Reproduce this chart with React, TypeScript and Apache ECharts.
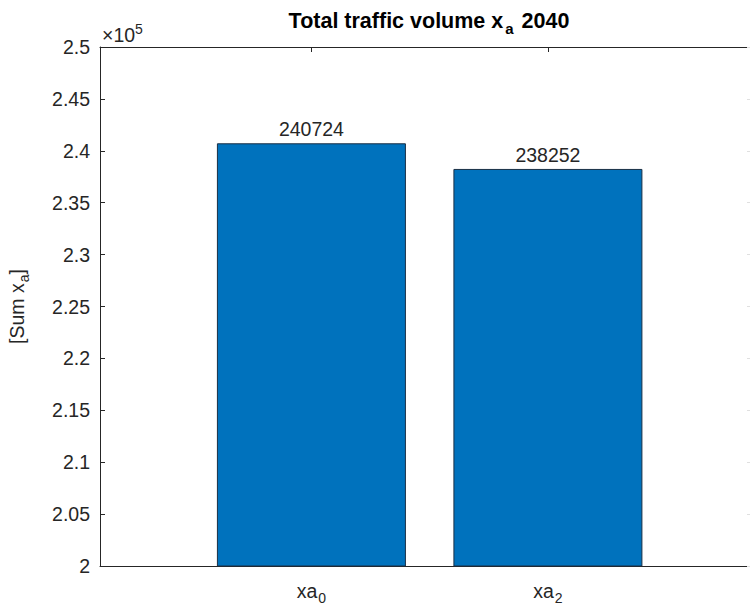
import React, { useEffect, useRef } from "react";
import * as echarts from "echarts";

const categories = ["0", "2"]; // subscripts of xa
const barPositions = [1, 2];
const values = [240724, 238252];
const yTicks = [200000, 250000, 5000]; // min, max, interval
const titleMain = "Total traffic volume x";
const titleSub = "a";
const titleTail = " 2040";

const FONT = "Liberation Sans, Arial, sans-serif";
const TXT = "#262626";

export default function App() {
  const ref = useRef<HTMLDivElement>(null);
  useEffect(() => {
    const chart = echarts.init(ref.current!, null, { renderer: "svg" });
    const gridLeft = 100;
    const gridTop = 47;
    const gridW = 652;
    const gridH = 519;
    const xMin = 0.106;
    const xMax = 2.863;
    const subRich = {
      main: { fontSize: 19.5, fontFamily: FONT, color: TXT },
      sub: { fontSize: 14, fontFamily: FONT, color: TXT, padding: [14, 0, 0, 1] },
    };
    chart.setOption({
      animation: false,
      backgroundColor: "#ffffff",
      grid: {
        left: gridLeft,
        top: gridTop,
        width: gridW,
        height: gridH,
        containLabel: false,
        outerBoundsMode: "none",
      },
      xAxis: [
        {
          type: "value",
          min: xMin,
          max: xMax,
          position: "bottom",
          splitLine: { show: false },
          axisLine: { show: true, onZero: false, lineStyle: { color: TXT, width: 1 } },
          axisTick: { show: true, inside: true, length: 5, customValues: barPositions, lineStyle: { color: TXT } },
          axisLabel: {
            customValues: barPositions,
            margin: 11,
            formatter: (v: number) => {
              const i = barPositions.indexOf(v);
              return i >= 0 ? `{main|xa}{sub|${categories[i]}}` : "";
            },
            rich: subRich,
          },
        },
        {
          type: "value",
          min: xMin,
          max: xMax,
          position: "top",
          splitLine: { show: false },
          axisLine: { show: true, onZero: false, lineStyle: { color: TXT, width: 1 } },
          axisTick: { show: true, inside: true, length: 5, customValues: barPositions, lineStyle: { color: TXT } },
          axisLabel: { show: false },
        },
      ],
      yAxis: [
        {
          type: "value",
          min: yTicks[0],
          max: yTicks[1],
          interval: yTicks[2],
          position: "left",
          splitLine: { show: false },
          axisLine: { show: true, lineStyle: { color: TXT, width: 1 } },
          axisTick: { show: true, inside: true, length: 5, lineStyle: { color: TXT } },
          axisLabel: {
            margin: 10,
            fontSize: 19.5,
            fontFamily: FONT,
            color: TXT,
            formatter: (v: number) => String(+(v / 1e5).toFixed(2)),
          },
          name: "{main|[Sum x}{sub|a}{main|]}",
          nameLocation: "middle",
          nameGap: 69,
          nameTextStyle: { rich: subRich },
        },
        {
          type: "value",
          min: yTicks[0],
          max: yTicks[1],
          interval: yTicks[2],
          position: "right",
          splitLine: { show: false },
          axisLine: { show: false },
          axisTick: { show: true, inside: true, length: 5, lineStyle: { color: "#e0e0e0" } },
          axisLabel: { show: false },
        },
      ],
      series: [
        {
          type: "bar",
          xAxisIndex: 0,
          yAxisIndex: 0,
          barWidth: 189,
          data: barPositions.map((p, i) => [p, values[i]]),
          itemStyle: { color: "#0072BD", borderColor: "#1a2f45", borderWidth: 1 },
          label: {
            show: true,
            position: "top",
            distance: 4,
            fontSize: 19.5,
            fontFamily: FONT,
            color: TXT,
            formatter: (p: any) => String(p.value[1]),
          },
        },
      ],
      graphic: [
        {
          type: "text",
          x: 429,
          y: 21,
          style: {
            text: `{b|${titleMain}}{bs|${titleSub}}{b|${titleTail}}`,
            align: "center",
            verticalAlign: "middle",
            rich: {
              b: { fontSize: 21.5, fontWeight: "bold", fontFamily: FONT, fill: "#000" },
              bs: { fontSize: 15, fontWeight: "bold", fontFamily: FONT, fill: "#000", padding: [15, 2, 0, 2] },
            },
          },
        },
        {
          type: "text",
          x: 102,
          y: 35,
          style: {
            text: "{m|×10}{s|5}",
            align: "left",
            verticalAlign: "middle",
            rich: {
              m: { fontSize: 19.5, fontFamily: FONT, fill: TXT },
              s: { fontSize: 14, fontFamily: FONT, fill: TXT, padding: [0, 0, 13, 0] },
            },
          },
        },
      ],
    });
    return () => chart.dispose();
  }, []);
  return (
    <div
      ref={ref}
      style={{ position: "fixed", left: 0, top: 0, width: 750, height: 612, background: "#fff" }}
    />
  );
}
